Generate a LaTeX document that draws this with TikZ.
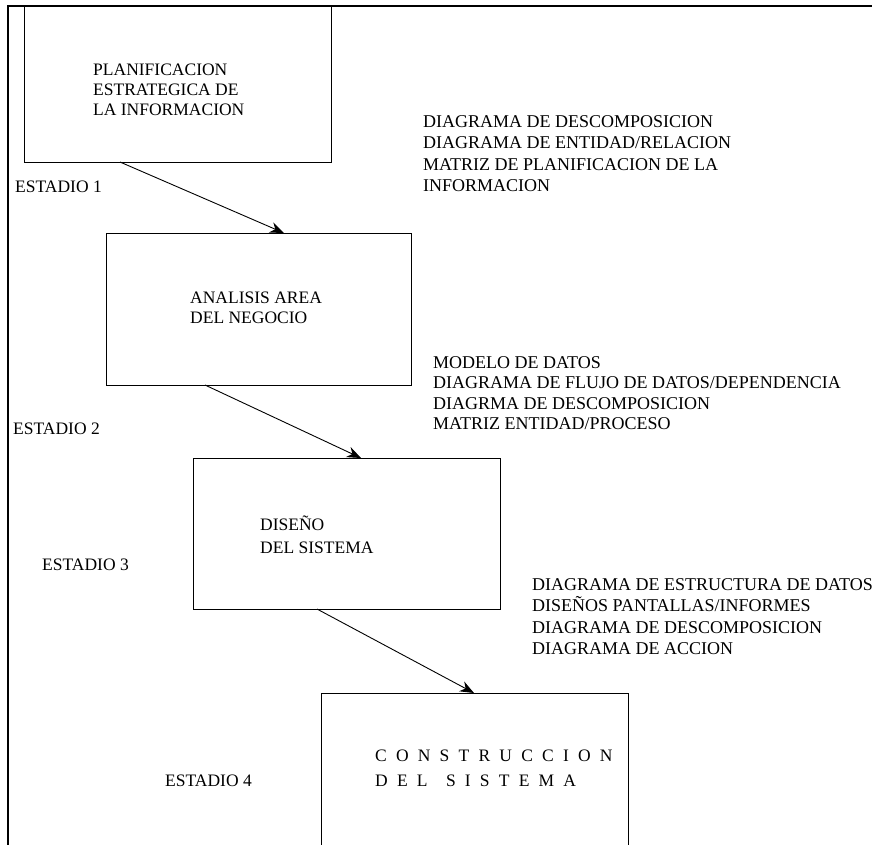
\documentclass[tikz,border=0pt]{standalone}
\usepackage{fontspec}
\setmainfont{Liberation Serif}
\usetikzlibrary{arrows.meta}
\newcommand\widesp{\spaceskip=9.2pt\relax}
\begin{document}
\begin{tikzpicture}[x=1pt,y=-1pt,
  box/.style={draw, line width=1.1pt, inner sep=0pt, anchor=north west},
  frameline/.style={line width=1.2pt},
  lbl/.style={anchor=north west, inner sep=0pt, align=left, font=\fontsize{18}{21.5}\selectfont},
  boxlbl/.style={anchor=north west, inner sep=0pt, align=left, font=\fontsize{17.5}{20}\selectfont},
  stage/.style={anchor=west, inner sep=0pt, font=\fontsize{17.5}{20}\selectfont},
  flow/.style={line width=0.9pt, -{Stealth[length=14pt, width=11pt]}}
]
\useasboundingbox (0,0) rectangle (872,844);
\fill[white] (0,0) rectangle (872,844);
\clip (0,0) rectangle (872,844);

% outer frame
\coordinate (fbl) at (8,850);
\coordinate (ftl) at (8,6);
\coordinate (ftr) at (880,6);
\draw[frameline] (fbl) -- (ftl) -- (ftr);

% boxes
\node[box, minimum width=307pt, minimum height=156pt] (b1) at (24,6) {};
\node[box, minimum width=305pt, minimum height=152pt] (b2) at (106,233) {};
\node[box, minimum width=307pt, minimum height=151pt] (b3) at (193,458) {};
\node[box, minimum width=307pt, minimum height=170pt] (b4) at (321,693) {};

% box texts
\node[boxlbl] (t1) at (93,64) {PLANIFICACION\\ESTRATEGICA DE\\LA INFORMACION};
\node[boxlbl] (t2) at (190,292) {ANALISIS AREA\\DEL NEGOCIO};
\node[boxlbl, font=\fontsize{17.5}{23}\selectfont] (t3) at (260,516) {DISEÑO\\DEL SISTEMA};
\node[boxlbl, font=\fontsize{17.5}{25}\selectfont\widesp] (t4) at (375,750)
  {C O N S T R U C C I O N\\D E L \ S I S T E M A};

% technique lists
\node[lbl] (r1) at (423,115) {DIAGRAMA DE DESCOMPOSICION\\DIAGRAMA DE ENTIDAD/RELACION\\MATRIZ DE PLANIFICACION DE LA\\INFORMACION};
\node[lbl, font=\fontsize{18}{20.5}\selectfont] (r2) at (433,356) {MODELO DE DATOS\\DIAGRAMA DE FLUJO DE DATOS/DEPENDENCIA\\DIAGRMA DE DESCOMPOSICION\\MATRIZ ENTIDAD/PROCESO};
\node[lbl] (r3) at (532,578) {DIAGRAMA DE ESTRUCTURA DE DATOS\\DISEÑOS PANTALLAS/INFORMES\\DIAGRAMA DE DESCOMPOSICION\\DIAGRAMA DE ACCION};

% stage labels
\node[stage] (s1) at (15,187) {ESTADIO 1};
\node[stage] (s2) at (13,429) {ESTADIO 2};
\node[stage] (s3) at (42,565) {ESTADIO 3};
\node[stage] (s4) at (165,781) {ESTADIO 4};

% connectors
\coordinate (a1s) at (120,162);
\coordinate (a1e) at (284,233);
\coordinate (a2s) at (205,385);
\coordinate (a2e) at (361,458);
\coordinate (a3s) at (317,609);
\coordinate (a3e) at (474,693);
\draw[flow] (a1s) -- (a1e);
\draw[flow] (a2s) -- (a2e);
\draw[flow] (a3s) -- (a3e);
\end{tikzpicture}
\end{document}
